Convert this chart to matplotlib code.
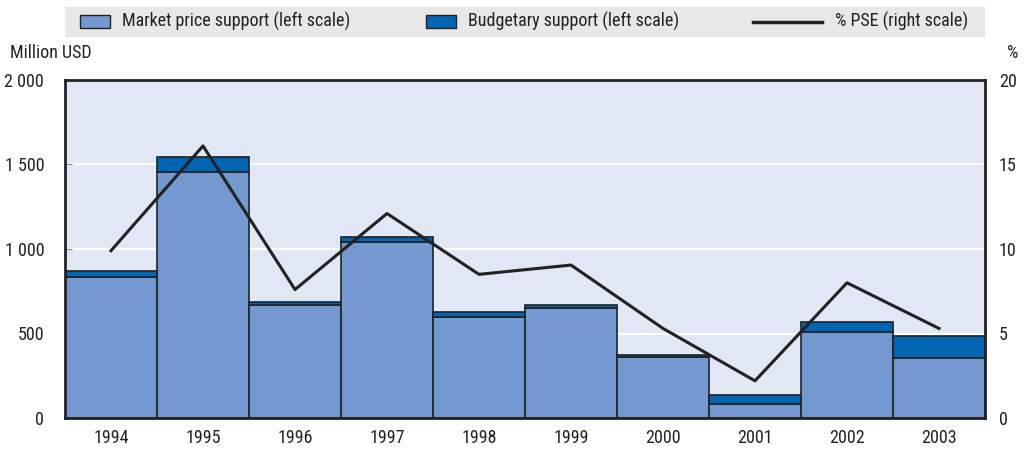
import matplotlib.pyplot as plt
from matplotlib.ticker import FuncFormatter

plt.rcParams['font.family'] = ['Roboto Condensed', 'PT Sans Narrow', 'DejaVu Sans']
plt.rcParams['font.stretch'] = 'condensed'

years = ['1994', '1995', '1996', '1997', '1998', '1999', '2000', '2001', '2002', '2003']
market_price = [834, 1456, 669, 1041, 598, 651, 361, 83, 509, 355]
total_support = [870, 1544, 686, 1071, 627, 669, 373, 136, 568, 485]
budgetary = [t - m for t, m in zip(total_support, market_price)]
pse_pct = [9.9, 16.1, 7.6, 12.1, 8.5, 9.05, 5.3, 2.2, 8.0, 5.3]
legend_labels = ['Market price support (left scale)', 'Budgetary support (left scale)',
                 '% PSE (right scale)']

c_mps = '#7399d0'
c_bud = '#0066b3'
bg = '#e1e7f4'
ink = '#222222'
W, H = 1025, 450

fig = plt.figure(figsize=(W / 100, H / 100), dpi=100)
ax = fig.add_axes([65 / W, 1 - 418 / H, 920 / W, 338 / H])
ax.set_facecolor(bg)

x = list(range(len(years)))
ax.bar(x, market_price, width=1.0, color=c_mps, edgecolor=ink, linewidth=1.2, zorder=3)
ax.bar(x, budgetary, width=1.0, bottom=market_price, color=c_bud, edgecolor=ink,
       linewidth=1.2, zorder=3)

ax.set_xlim(-0.5, len(years) - 0.5)
ax.set_ylim(0, 2000)
ax.set_yticks([0, 500, 1000, 1500, 2000])
ax.yaxis.set_major_formatter(FuncFormatter(lambda v, p: f'{int(v):,}'.replace(',', ' ')))
ax.grid(axis='y', color='white', linewidth=1.5, zorder=1)
ax.set_xticks(x)
ax.set_xticklabels(years)
ax.tick_params(axis='x', length=0, pad=8, labelsize=13, colors=ink)
ax.tick_params(axis='y', direction='in', length=5, color='#888888', labelsize=13,
               labelcolor=ink, pad=15)
for s in ax.spines.values():
    s.set_color(ink)
    s.set_linewidth(2)
    s.set_zorder(5)

ax2 = ax.twinx()
ax2.plot(x, pse_pct, color=ink, linewidth=2.2, zorder=6)
ax2.set_ylim(0, 20)
ax2.set_yticks([0, 5, 10, 15, 20])
ax2.tick_params(axis='y', length=0, labelsize=13, labelcolor=ink, pad=10)
for s in ax2.spines.values():
    s.set_visible(False)

fig.text(10 / W, 1 - 53 / H, 'Million USD', fontsize=13, color=ink, va='center')
fig.text(1018 / W, 1 - 53 / H, '%', fontsize=13, color=ink, va='center', ha='right')

# legend band drawn by hand to match the reference spacing
fig.patches.append(plt.Rectangle((65 / W, 1 - 37 / H), 920 / W, 30 / H,
                                 transform=fig.transFigure, facecolor='#e8e8e8',
                                 edgecolor='none', zorder=0))
ly = 1 - 21.5 / H
for x0, col in [(80, c_mps), (426, c_bud)]:
    fig.patches.append(plt.Rectangle((x0 / W, ly - 6.5 / H), 30 / W, 13 / H,
                                     transform=fig.transFigure, facecolor=col,
                                     edgecolor=ink, linewidth=1))
fig.lines.append(plt.Line2D([753 / W, 822 / W], [ly, ly], transform=fig.transFigure,
                            color=ink, linewidth=2.5))
for x0, lab in zip([122, 468, 835], legend_labels):
    fig.text(x0 / W, ly, lab, fontsize=13, color=ink, va='center', ha='left')

fig.savefig('out.png', dpi=100)
